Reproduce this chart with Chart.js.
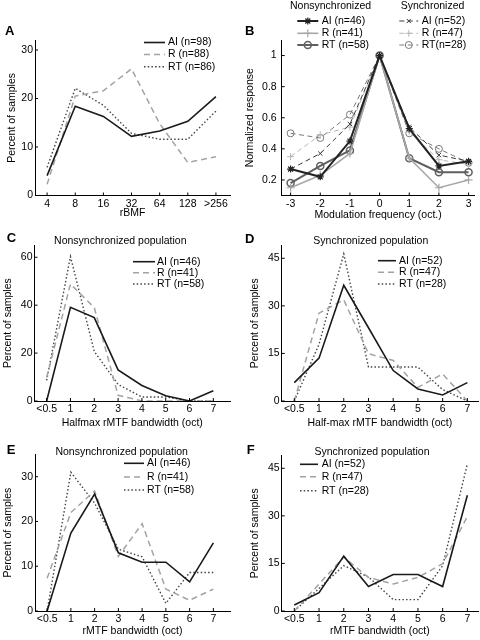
<!DOCTYPE html>
<html lang="en">
<head>
<meta charset="UTF-8">
<title>rMTF tuning by area</title>
<script src="https://cdn.jsdelivr.net/npm/chart.js"></script>
<style>
  body { margin: 0; background: #fff; }
  #fig { position: relative; width: 480px; height: 640px; overflow: hidden; }
  #fig canvas { position: absolute; }
</style>
</head>
<body>
<div id="fig">
  <canvas id="chartA"></canvas>
  <canvas id="chartB"></canvas>
  <canvas id="chartC"></canvas>
  <canvas id="chartD"></canvas>
  <canvas id="chartE"></canvas>
  <canvas id="chartF"></canvas>
</div>
<script>
// ---- data ----
// A: rBMF distribution (percent of samples)
const rbmfLabels = ['4', '8', '16', '32', '64', '128', '>256'];
const aiA = [4.1, 18.4, 16.3, 12.2, 13.3, 15.3, 20.4];
const rA = [2.3, 20.5, 21.6, 26.1, 14.8, 6.8, 8.0];
const rtA = [5.8, 22.1, 18.6, 12.8, 11.6, 11.6, 17.4];
const yTicksA = [0, 10, 20, 30];
const namesA = ['AI (n=98)', 'R (n=88)', 'RT (n=86)'];

// B: normalized response vs modulation frequency (oct.)
const octaves = [-3, -2, -1, 0, 1, 2, 3];
const aiNonsync = [0.27, 0.22, 0.45, 1, 0.53, 0.29, 0.32];
const rNonsync = [0.15, 0.23, 0.37, 1, 0.34, 0.15, 0.20];
const rtNonsync = [0.18, 0.29, 0.39, 1, 0.34, 0.25, 0.25];
const aiSync = [0.27, 0.37, 0.56, 1, 0.54, 0.36, 0.32];
const rSync = [0.35, 0.49, 0.54, 1, 0.51, 0.33, 0.30];
const rtSync = [0.50, 0.47, 0.62, 1, 0.50, 0.40, 0.31];
const yTicksB = [0.2, 0.4, 0.6, 0.8, 1];
const namesNonsync = ['AI (n=46)', 'R (n=41)', 'RT (n=58)'];
const namesSync = ['AI (n=52)', 'R (n=47)', 'RT(n=28)'];

// C-F: bandwidth distributions (percent of samples)
const bwLabels = ['<0.5', '1', '2', '3', '4', '5', '6', '7'];
const aiC = [0, 39.1, 34.8, 13.0, 6.5, 2.2, 0, 4.3];
const rC = [9.8, 48.8, 39.0, 2.4, 0, 0, 0, 0];
const rtC = [8.6, 60.3, 20.7, 6.9, 1.7, 1.7, 0, 0];
const aiD = [5.8, 13.5, 36.5, 23.1, 9.6, 3.8, 1.9, 5.8];
const rD = [0, 27.7, 31.9, 14.9, 12.8, 4.3, 8.5, 0];
const rtD = [0, 17.9, 46.4, 10.7, 10.7, 10.7, 3.6, 0];
const aiE = [0, 17.4, 26.1, 13.0, 10.9, 10.9, 6.5, 15.2];
const rE = [7.3, 22.0, 26.8, 12.2, 19.5, 4.9, 2.4, 4.9];
const rtE = [0, 31.0, 24.1, 13.8, 12.1, 1.7, 8.6, 8.6];
const aiF = [1.9, 5.8, 17.3, 7.7, 11.5, 11.5, 7.7, 36.5];
const rF = [0, 8.5, 17.0, 10.6, 8.5, 10.6, 14.9, 29.8];
const rtF = [0, 7.1, 14.3, 10.7, 3.6, 3.6, 14.3, 46.4];
const yTicksC = [0, 20, 40, 60];
const yTicksD = [0, 15, 30, 45];
const yTicksE = [0, 10, 20, 30];
const yTicksF = [0, 15, 30, 45];
const bwIdx = [0, 1, 2, 3, 4, 5, 6, 7];
const rbmfIdx = [0, 1, 2, 3, 4, 5, 6];

// ---- look ----
const FONT = "'Liberation Sans', Arial, sans-serif";
const FS = 10.5;
const LH = FS * 1.2;
Chart.defaults.font.family = FONT;
Chart.defaults.font.size = FS;
Chart.defaults.color = '#000';

const lineStyle = {
  AI: { borderColor: '#1a1a1a', borderWidth: 1.6, borderDash: [] },
  R: { borderColor: '#a3a3a3', borderWidth: 1.5, borderDash: [6, 4] },
  RT: { borderColor: '#444', borderWidth: 1.4, borderDash: [1.5, 2.2] }
};

function pts(xs, ys) {
  return ys.map((v, i) => ({ x: xs[i], y: v }));
}

function threeSets(xs, ai, r, rt, names) {
  return [
    { label: names[0], data: pts(xs, ai), ...lineStyle.AI, pointRadius: 0 },
    { label: names[1], data: pts(xs, r), ...lineStyle.R, pointRadius: 0 },
    { label: names[2], data: pts(xs, rt), ...lineStyle.RT, pointRadius: 0 }
  ];
}

// letters, panel titles, legends and inward tick marks
function deco(p) {
  return {
    id: 'deco' + p.id,
    afterDraw(chart) {
      const ctx = chart.ctx;
      const bx = p.box[0], by = p.box[1];
      const area = chart.chartArea;
      const xs = chart.scales.x, ys = chart.scales.y;
      ctx.save();
      ctx.strokeStyle = '#000';
      ctx.lineWidth = 1;
      ctx.beginPath();
      xs.ticks.forEach(t => {
        const x = xs.getPixelForValue(t.value);
        ctx.moveTo(x, area.bottom);
        ctx.lineTo(x, area.bottom - 3);
      });
      ys.ticks.forEach(t => {
        const y = ys.getPixelForValue(t.value);
        ctx.moveTo(area.left, y);
        ctx.lineTo(area.left + 3, y);
      });
      ctx.stroke();

      ctx.fillStyle = '#000';
      ctx.textBaseline = 'middle';
      ctx.textAlign = 'left';
      ctx.font = 'bold 13px ' + FONT;
      ctx.fillText(p.letter, p.letterAt[0] - bx, p.letterAt[1] - by);
      ctx.font = FS + 'px ' + FONT;
      if (p.title) {
        ctx.textAlign = 'center';
        ctx.fillText(p.title, p.titleAt[0] - bx, p.titleAt[1] - by);
        ctx.textAlign = 'left';
      }

      p.legend.forEach(col => {
        if (col.head) {
          ctx.fillStyle = '#000';
          ctx.fillText(col.head, col.headAt[0] - bx, col.headAt[1] - by);
        }
        col.sets.forEach((di, k) => {
          const ds = chart.data.datasets[di];
          const y = col.rows[k] - by;
          ctx.strokeStyle = ds.borderColor;
          ctx.lineWidth = ds.borderWidth;
          ctx.setLineDash(ds.borderDash || []);
          ctx.beginPath();
          ctx.moveTo(col.x1 - bx, y);
          ctx.lineTo(col.x2 - bx, y);
          ctx.stroke();
          ctx.setLineDash([]);
          if (ds.pointRadius > 0 && Chart.helpers && Chart.helpers.drawPoint) {
            ctx.strokeStyle = ds.pointBorderColor || ds.borderColor;
            ctx.fillStyle = ds.pointBackgroundColor || 'rgba(0,0,0,0)';
            ctx.lineWidth = ds.pointBorderWidth || 1;
            Chart.helpers.drawPoint(ctx, {
              pointStyle: ds.pointStyle, radius: ds.pointRadius,
              borderWidth: ds.pointBorderWidth || 1, rotation: 0
            }, (col.x1 + col.x2) / 2 - bx, y);
          }
          ctx.fillStyle = '#000';
          ctx.fillText(ds.label, col.tx - bx, y);
        });
      });
      ctx.restore();
    }
  };
}

function makePanel(p) {
  const cv = document.getElementById(p.id);
  const [bx, by, W, H] = p.box;
  cv.style.left = bx + 'px';
  cv.style.top = by + 'px';
  cv.style.width = W + 'px';
  cv.style.height = H + 'px';
  cv.width = W;
  cv.height = H;
  const [pl, pt, pr, pb] = p.plot;
  const yWidth = pl - bx;
  const xHeight = by + H - pb;
  const xTitlePad = Math.max(by + H - p.xTitleY - LH / 2, 0);
  const yTitlePad = Math.max(p.yTitleX - bx - LH / 2, 0);

  new Chart(cv, {
    type: 'line',
    data: { datasets: p.datasets },
    options: {
      responsive: false,
      animation: false,
      events: [],
      layout: { padding: { left: 0, top: pt - by, right: bx + W - pr, bottom: 0 } },
      elements: { line: { tension: 0 } },
      plugins: { legend: { display: false }, tooltip: { enabled: false } },
      scales: {
        x: {
          type: 'linear', min: p.xMin, max: p.xMax,
          afterFit: s => { s.height = xHeight; },
          afterBuildTicks: s => { s.ticks = p.xTicks.map(v => ({ value: v })); },
          ticks: {
            autoSkip: false, maxRotation: 0, padding: 2,
            callback: v => (p.xLabels ? p.xLabels[v] : String(v))
          },
          grid: { display: false, drawTicks: false },
          border: { color: '#000', width: 1 },
          title: { display: true, text: p.xTitle, padding: { top: 0, bottom: xTitlePad } }
        },
        y: {
          type: 'linear', min: p.yMin, max: p.yMax,
          afterFit: s => { s.width = yWidth; },
          afterBuildTicks: s => { s.ticks = p.yTicks.map(v => ({ value: v })); },
          ticks: { autoSkip: false, padding: p.yPad, callback: v => String(v) },
          grid: { display: false, drawTicks: false },
          border: { color: '#000', width: 1 },
          title: { display: true, text: p.yTitle, padding: { top: yTitlePad, bottom: 0 } }
        }
      }
    },
    plugins: [deco(p)]
  });
}

// ---- panels ----
makePanel({
  id: 'chartA', box: [0, 0, 240, 221], plot: [35, 40.3, 230, 195.5],
  xMin: -0.43, xMax: 6.5, xTicks: rbmfIdx, xLabels: rbmfLabels, xTitle: 'rBMF', xTitleY: 213,
  yMin: 0, yMax: 32, yTicks: yTicksA, yTitle: 'Percent of samples', yTitleX: 12, yPad: 2,
  letter: 'A', letterAt: [5, 31.5],
  datasets: threeSets(rbmfIdx, aiA, rA, rtA, namesA),
  legend: [{ sets: [0, 1, 2], rows: [42.5, 54.5, 66.7], x1: 144, x2: 165, tx: 168 }]
});

const dashSync = [5, 3.5];
makePanel({
  id: 'chartB', box: [240, 0, 240, 224], plot: [281.7, 40, 478, 195.5],
  xMin: -3.3, xMax: 3.2, xTicks: octaves, xTitle: 'Modulation frequency (oct.)', xTitleY: 215,
  yMin: 0.1, yMax: 1.1, yTicks: yTicksB, yTitle: 'Normalized response', yTitleX: 250, yPad: 5,
  letter: 'B', letterAt: [245, 31],
  datasets: [
    { label: namesNonsync[0], data: pts(octaves, aiNonsync), borderColor: '#222', borderWidth: 2,
      pointStyle: 'star', pointRadius: 3.5, pointBorderWidth: 1.2, pointBorderColor: '#222', pointBackgroundColor: '#222' },
    { label: namesNonsync[1], data: pts(octaves, rNonsync), borderColor: '#a8a8a8', borderWidth: 1.6,
      pointStyle: 'cross', pointRadius: 4, pointBorderWidth: 1.2, pointBorderColor: '#a8a8a8', pointBackgroundColor: '#a8a8a8' },
    { label: namesNonsync[2], data: pts(octaves, rtNonsync), borderColor: '#5f5f5f', borderWidth: 2,
      pointStyle: 'circle', pointRadius: 3.5, pointBorderWidth: 1.5, pointBorderColor: '#5f5f5f', pointBackgroundColor: 'rgba(0,0,0,0)' },
    { label: namesSync[0], data: pts(octaves, aiSync), borderColor: '#3a3a3a', borderWidth: 1, borderDash: dashSync,
      pointStyle: 'crossRot', pointRadius: 3, pointBorderWidth: 1, pointBorderColor: '#3a3a3a', pointBackgroundColor: '#3a3a3a' },
    { label: namesSync[1], data: pts(octaves, rSync), borderColor: '#b8b8b8', borderWidth: 1, borderDash: dashSync,
      pointStyle: 'cross', pointRadius: 3.5, pointBorderWidth: 1, pointBorderColor: '#b8b8b8', pointBackgroundColor: '#b8b8b8' },
    { label: namesSync[2], data: pts(octaves, rtSync), borderColor: '#7a7a7a', borderWidth: 1, borderDash: dashSync,
      pointStyle: 'circle', pointRadius: 3.5, pointBorderWidth: 1, pointBorderColor: '#7a7a7a', pointBackgroundColor: 'rgba(0,0,0,0)' }
  ],
  legend: [
    { head: 'Nonsynchronized', headAt: [290, 6.5], sets: [0, 1, 2], rows: [21, 33.3, 45], x1: 297.3, x2: 318.3, tx: 321.7 },
    { head: 'Synchronized', headAt: [400.7, 6.5], sets: [3, 4, 5], rows: [21, 33.3, 45], x1: 399.3, x2: 418.3, tx: 421.7 }
  ]
});

makePanel({
  id: 'chartC', box: [0, 222, 240, 209], plot: [34.5, 245.3, 230, 401],
  xMin: -0.51, xMax: 7.7, xTicks: bwIdx, xLabels: bwLabels, xTitle: 'Halfmax rMTF bandwidth (oct)', xTitleY: 423.5,
  yMin: 0, yMax: 65, yTicks: yTicksC, yTitle: 'Percent of samples', yTitleX: 8.3, yPad: 2,
  letter: 'C', letterAt: [6.7, 238.3], title: 'Nonsynchronized population', titleAt: [120.3, 241],
  datasets: threeSets(bwIdx, aiC, rC, rtC, namesNonsync),
  legend: [{ sets: [0, 1, 2], rows: [261.7, 272.7, 284], x1: 133, x2: 155, tx: 157 }]
});

makePanel({
  id: 'chartD', box: [240, 222, 240, 209], plot: [281.7, 245.6, 478, 401],
  xMin: -0.51, xMax: 7.43, xTicks: bwIdx, xLabels: bwLabels, xTitle: 'Half-max rMTF bandwidth (oct)', xTitleY: 423.5,
  yMin: 0, yMax: 49, yTicks: yTicksD, yTitle: 'Percent of samples', yTitleX: 255, yPad: 2,
  letter: 'D', letterAt: [245, 239], title: 'Synchronized population', titleAt: [370.8, 241],
  datasets: threeSets(bwIdx, aiD, rD, rtD, ['AI (n=52)', 'R (n=47)', 'RT (n=28)']),
  legend: [{ sets: [0, 1, 2], rows: [260.7, 272.3, 284], x1: 378, x2: 396, tx: 399 }]
});

makePanel({
  id: 'chartE', box: [0, 432, 240, 208], plot: [35, 454.3, 230, 611],
  xMin: -0.51, xMax: 7.7, xTicks: bwIdx, xLabels: bwLabels, xTitle: 'rMTF bandwidth (oct)', xTitleY: 631,
  yMin: 0, yMax: 35, yTicks: yTicksE, yTitle: 'Percent of samples', yTitleX: 8.3, yPad: 2,
  letter: 'E', letterAt: [6.7, 450.5], title: 'Nonsynchronized population', titleAt: [121.7, 452.3],
  datasets: threeSets(bwIdx, aiE, rE, rtE, namesNonsync),
  legend: [{ sets: [0, 1, 2], rows: [463.3, 477, 490], x1: 124, x2: 144, tx: 147 }]
});

makePanel({
  id: 'chartF', box: [240, 432, 240, 208], plot: [281.7, 455.6, 478, 611],
  xMin: -0.51, xMax: 7.43, xTicks: bwIdx, xLabels: bwLabels, xTitle: 'rMTF bandwidth (oct)', xTitleY: 631,
  yMin: 0, yMax: 49, yTicks: yTicksF, yTitle: 'Percent of samples', yTitleX: 255, yPad: 2,
  letter: 'F', letterAt: [246.7, 450.5], title: 'Synchronized population', titleAt: [372, 452.3],
  datasets: threeSets(bwIdx, aiF, rF, rtF, ['AI (n=52)', 'R (n=47)', 'RT (n=28)']),
  legend: [{ sets: [0, 1, 2], rows: [464.3, 476.7, 490.7], x1: 300, x2: 318, tx: 321.7 }]
});
</script>
</body>
</html>
